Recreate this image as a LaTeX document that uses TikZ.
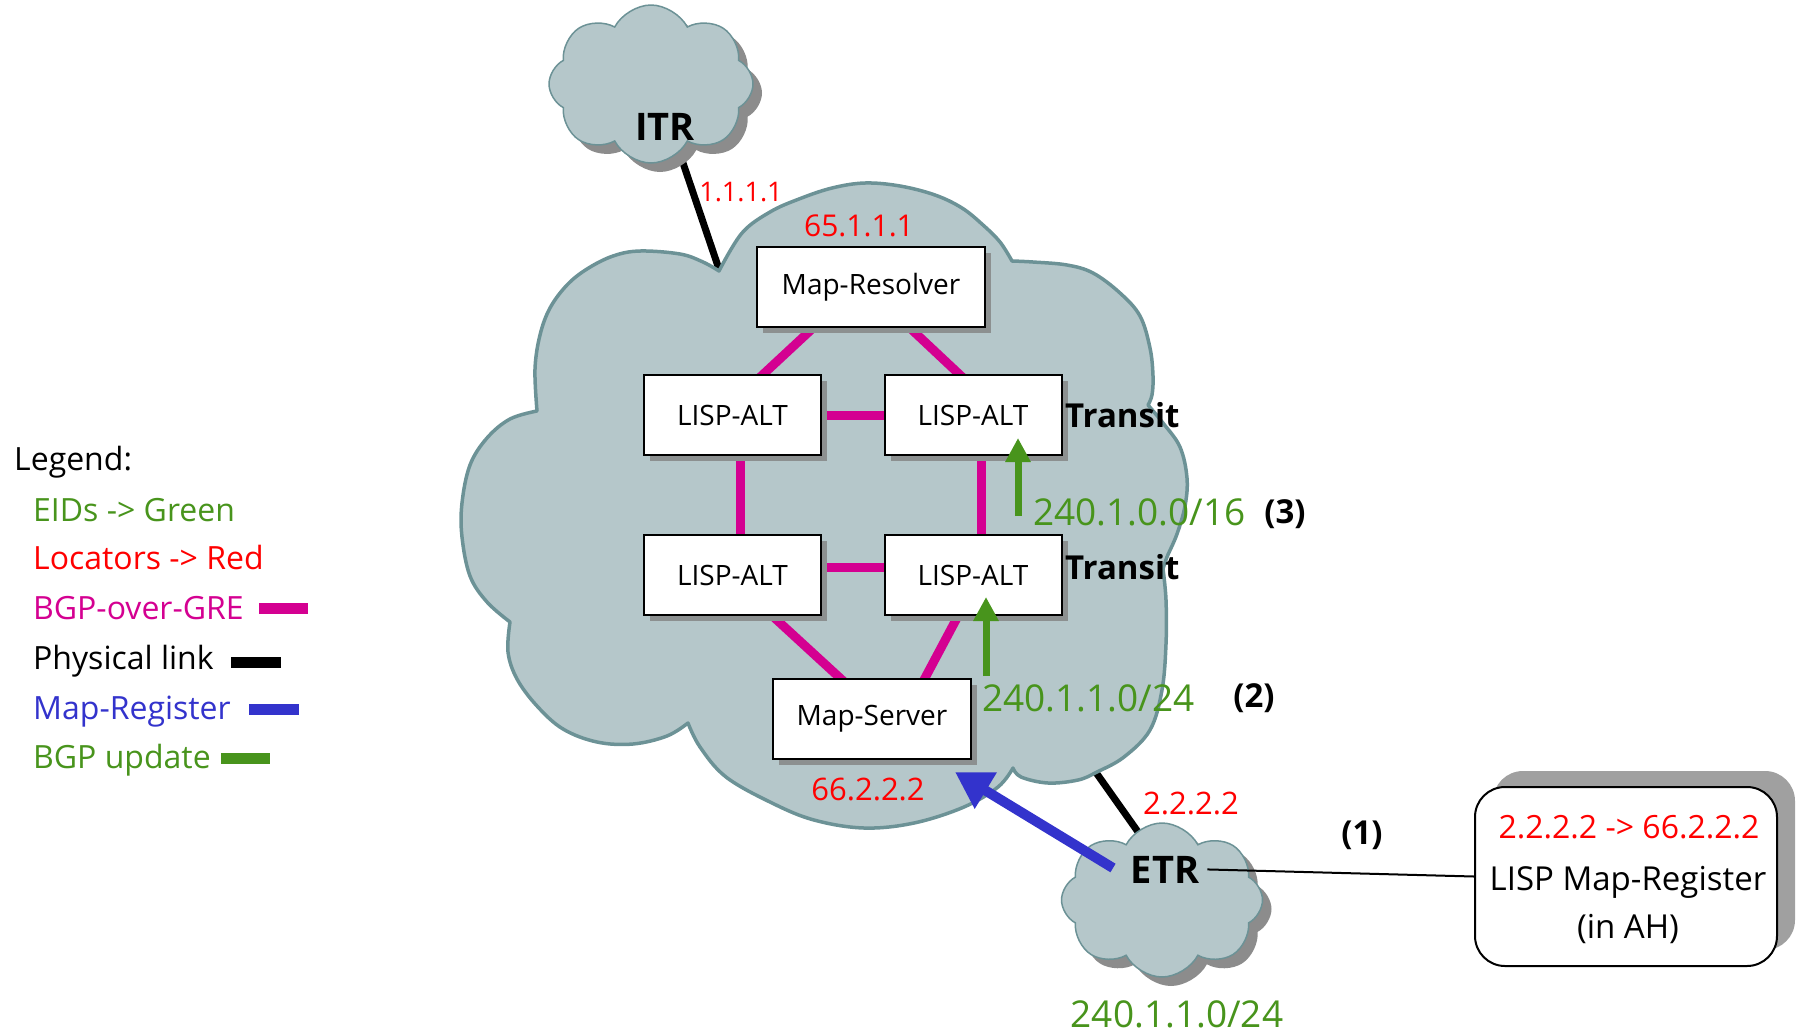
\documentclass[tikz,border=0pt]{standalone}
\usepackage{fontspec}
\setmainfont{Open Sans}
\usetikzlibrary{shapes.symbols,arrows.meta,shadows}

\definecolor{cloudfill}{RGB}{181,199,202}
\definecolor{cloudline}{RGB}{108,146,150}
\definecolor{puffshadow}{RGB}{140,140,140}
\definecolor{boxshadow}{RGB}{140,144,144}
\definecolor{eidgreen}{RGB}{72,148,28}
\definecolor{locred}{RGB}{255,0,0}
\definecolor{gremag}{RGB}{212,0,145}
\definecolor{regblue}{RGB}{51,51,204}
\definecolor{calloutgray}{RGB}{160,160,160}

\newcommand\pxfont[1]{\fontsize{#1pt}{#1pt}\selectfont}

\pgfdeclarelayer{back}
\pgfdeclarelayer{mid}
\pgfsetlayers{back,mid,main}

\begin{document}
\begin{tikzpicture}[x=1pt,y=-1pt,
  txt/.style={inner sep=0pt, anchor=base},
  boxnode/.style={draw=black, line width=2pt, fill=white, inner sep=0pt,
    minimum height=80pt, font=\pxfont{28},
    drop shadow={shadow xshift=6pt, shadow yshift=-6pt, fill=boxshadow, opacity=1}},
  grelink/.style={gremag, line width=9pt, shorten <=-5pt, shorten >=-5pt},
  physlink/.style={black, line width=7pt},
  bgpup/.style={eidgreen, line width=7pt, -{Triangle[length=24pt,width=24pt]}},
  mapreg/.style={regblue, line width=10pt, -{Triangle[length=36pt,width=40pt]}},
  smallcloud/.style={cloud, cloud puffs=8, cloud puff arc=125, cloud ignores aspect,
    fill=cloudfill, draw=cloudline, line width=1.5pt, inner sep=0pt,
    drop shadow={shadow xshift=9pt, shadow yshift=-9pt, fill=puffshadow, opacity=1}},
  legbar/.style={line width=11pt},
  locator/.style={txt, text=locred},
  eid/.style={txt, text=eidgreen, font=\pxfont{37}},
  boldlbl/.style={txt, font=\pxfont{33}\bfseries},
]
\useasboundingbox (0,0) rectangle (1799,1034);

% ---------- network boxes ----------
\node[boxnode, minimum width=228pt] (mr) at (871,287) {Map-Resolver};
\node[boxnode, minimum width=177pt] (tl) at (732.5,415) {LISP-ALT};
\node[boxnode, minimum width=177pt] (tr) at (973,415) {LISP-ALT};
\node[boxnode, minimum width=177pt] (bl) at (732.5,575) {LISP-ALT};
\node[boxnode, minimum width=177pt] (br) at (973,575) {LISP-ALT};
\node[boxnode, minimum width=198pt] (ms) at (872,719) {Map-Server};

% ---------- clouds and physical links ----------
\coordinate (itrfoot) at (682,160);
\coordinate (corenw) at (722,278);
\coordinate (coresw) at (1090,764);
\coordinate (etrtop) at (1148,846);

\node[smallcloud, minimum width=204pt, minimum height=158pt] (itr) at (651,84) {};
\node[smallcloud, minimum width=201pt, minimum height=154pt] (etr) at (1162,900) {};

\begin{pgfonlayer}{back}
  \draw[physlink] (itrfoot) -- (corenw);
  \draw[physlink] (coresw) -- (etrtop);
  % core cloud outline, lobe by lobe
  \filldraw[fill=cloudfill, draw=cloudline, line width=3.5pt, line join=round]
    plot[smooth, tension=0.6] coordinates {(719,271) (742,233) (770,212) (799,199) (832,188) (865,183) (900,186) (935,195) (962,208) (983,225) (1000,242) (1012,261)}
    -- plot[smooth, tension=0.6] coordinates {(1012,261) (1033,262) (1067,265) (1093,273) (1120,293) (1140,316) (1150,348) (1153,376) (1152,395) (1148,405)}
    -- plot[smooth, tension=0.6] coordinates {(1148,405) (1163,423) (1180,447) (1187,478) (1185,506) (1177,534) (1167,557) (1163,569)}
    -- plot[smooth, tension=0.6] coordinates {(1163,569) (1166,600) (1166,644) (1162,690) (1150,730) (1124,757) (1097,772) (1078,780) (1048,783) (1021,777) (1013,768)}
    -- plot[smooth, tension=0.6] coordinates {(1013,768) (998,787) (964,807) (914,823) (864,828) (814,820) (772,803) (726,777) (700,747) (688,723)}
    -- plot[smooth, tension=0.6] coordinates {(688,723) (667,736) (633,744) (597,742) (563,729) (537,706) (517,679) (508,652) (510,622)}
    -- plot[smooth, tension=0.6] coordinates {(510,622) (487,602) (470,576) (462,537) (462,503) (470,465) (487,438) (510,419) (537,411)}
    -- plot[smooth, tension=0.6] coordinates {(537,411) (535,369) (540,335) (550,308) (567,285) (587,269) (613,256) (640,251) (680,254) (703,262) (719,271)}
    -- cycle;
\end{pgfonlayer}

% ---------- BGP-over-GRE tunnels ----------
\begin{pgfonlayer}{mid}
  \draw[grelink] ([xshift=-58pt]mr.south) -- ([xshift=31pt]tl.north);
  \draw[grelink] ([xshift=39pt]mr.south) -- ([xshift=-14pt]tr.north);
  \draw[grelink] (tl.east) -- (tr.west);
  \draw[grelink] ([xshift=8pt]tl.south) -- ([xshift=8pt]bl.north);
  \draw[grelink] ([xshift=8pt]tr.south) -- ([xshift=8pt]br.north);
  \draw[grelink] ([yshift=8pt]bl.east) -- ([yshift=8pt]br.west);
  \draw[grelink] ([xshift=40pt]bl.south) -- ([xshift=-32pt]ms.north);
  \draw[grelink] ([xshift=-15pt]br.south) -- ([xshift=53pt]ms.north);
\end{pgfonlayer}

% ---------- BGP updates ----------
\coordinate (upA) at ([shift={(45,60)}]tr.south);
\coordinate (upAtip) at ([shift={(45,-18)}]tr.south);
\coordinate (upB) at ([shift={(13,60)}]br.south);
\coordinate (upBtip) at ([shift={(13,-19)}]br.south);
\draw[bgpup] (upA) -- (upAtip);
\draw[bgpup] (upB) -- (upBtip);

% ---------- labels inside the core ----------
\node[locator, font=\pxfont{27}] (itrloc) at (741,201) {1.1.1.1};
\node[locator, font=\pxfont{30}] (mrloc) at (859,236) {65.1.1.1};
\node[locator, font=\pxfont{31}] (msloc) at (868,800) {66.2.2.2};
\node[locator, font=\pxfont{31}] (etrloc) at (1191,814) {2.2.2.2};
\node[boldlbl, anchor=base west] (tra) at (1065,427) {Transit};
\node[boldlbl, anchor=base west] (trb) at (1065,579) {Transit};
\node[eid, anchor=base west] (pfx16) at (1033,525) {240.1.0.0/16};
\node[eid, anchor=base west] (pfx24) at (982,711) {240.1.1.0/24};
\node[boldlbl] (st3) at (1285,523) {(3)};
\node[boldlbl] (st2) at (1254,707) {(2)};
\node[boldlbl] (st1) at (1362,844) {(1)};

% ---------- ITR / ETR ----------
\node[txt, font=\pxfont{38}\bfseries] (itrlabel) at (665,140) {ITR};
\node[txt, font=\pxfont{38}\bfseries] (etrlabel) at (1165,883) {ETR};
\node[eid] (site) at (1177,1027) {240.1.1.0/24};

% ---------- Map-Register ----------
\coordinate (regtail) at (1113,868);
\coordinate (regtip) at (955,772);
\draw[mapreg] (regtail) -- (regtip);

\node[draw=black, line width=2pt, fill=white, rounded corners=30pt,
  minimum width=302pt, minimum height=179pt,
  drop shadow={shadow xshift=18pt, shadow yshift=16pt, fill=calloutgray, opacity=1}]
  (callout) at (1626,876.5) {};
\node[locator, font=\pxfont{32}] (cl1) at (1629,838) {2.2.2.2 -> 66.2.2.2};
\node[txt, font=\pxfont{33}] (cl2) at (1628,890) {LISP Map-Register};
\node[txt, font=\pxfont{33}] (cl3) at (1628,938) {(in AH)};
\draw[line width=2pt] ([xshift=8pt]etrlabel.east) -- (callout.west);

% ---------- legend ----------
\begin{scope}[every node/.style={txt, anchor=base west, font=\pxfont{32}}]
  \node (lgtitle) at (14,470) {Legend:};
  \node[text=eidgreen] (lgeid) at (33,521) {EIDs -> Green};
  \node[text=locred] (lgloc) at (33,569) {Locators -> Red};
  \node[text=gremag] (lggre) at (33,619) {BGP-over-GRE};
  \node (lgphy) at (33,669) {Physical link};
  \node[text=regblue] (lgreg) at (33,719) {Map-Register};
  \node[text=eidgreen] (lgupd) at (33,768) {BGP update};
\end{scope}
\draw[legbar, gremag] (259,608) -- (308,608);
\draw[legbar, black] (231,662) -- (281,662);
\draw[legbar, regblue] (249,709) -- (299,709);
\draw[legbar, eidgreen] (221,758) -- (270,758);
\end{tikzpicture}
\end{document}
